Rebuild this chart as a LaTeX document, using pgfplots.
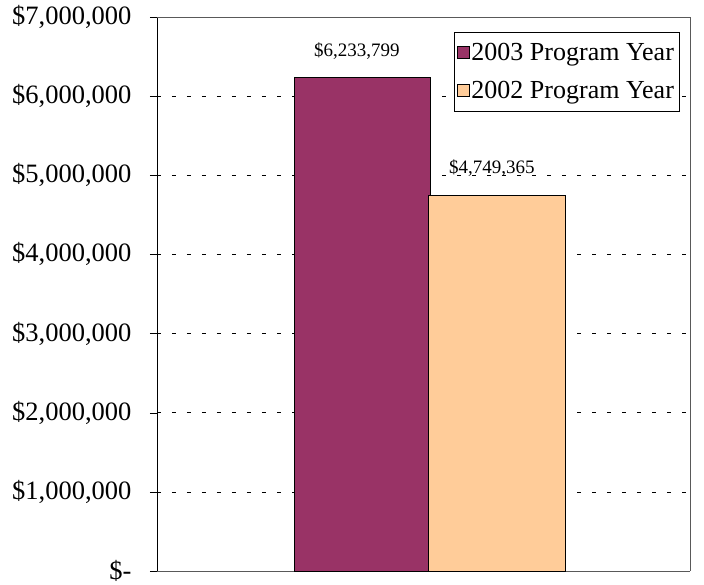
\documentclass[border=0pt]{standalone}
\usepackage{fontspec}
\setmainfont{Liberation Serif}
\usepackage{pgfplots}
\pgfplotsset{compat=1.18}
\definecolor{purp}{RGB}{153,51,102}
\definecolor{peach}{RGB}{255,204,153}
\begin{document}
\begin{tikzpicture}[x=1pt,y=1pt]
\useasboundingbox (-157,-13) rectangle (547,571);
\begin{axis}[
  at={(0,0)}, anchor=origin,
  scale only axis, width=533pt, height=554pt,
  xmin=0, xmax=1, ymin=0, ymax=7000000,
  scaled y ticks=false,
  axis x line*=bottom, axis y line*=left,
  x axis line style={gray!70!black, thick},
  y axis line style={black},
  xtick=\empty,
  ytick={0,1000000,2000000,3000000,4000000,5000000,6000000,7000000},
  yticklabels={{\$-},{\$1,000,000},{\$2,000,000},{\$3,000,000},{\$4,000,000},{\$5,000,000},{\$6,000,000},{\$7,000,000}},
  tick align=outside, major tick length=7pt,
  ytick style={black},
  yticklabel style={font=\fontsize{26.5}{30}\selectfont, xshift=-15pt},
  ymajorgrids,
  grid style={black, dash pattern=on 4pt off 11pt, line width=0.5pt},
  ybar, bar width=0.256, bar shift=0pt,
  point meta=explicit symbolic,
  nodes near coords,
  nodes near coords style={font=\fontsize{19}{22}\selectfont, anchor=south, yshift=15pt, xshift=-5pt},
  legend style={at={(0.557,0.973)}, anchor=north west, draw=black,
    font=\fontsize{26}{30}\selectfont, inner xsep=3pt, inner ysep=9pt, row sep=15pt,
    legend cell align=left},
  legend image code/.code={\draw[#1, draw=black] (2pt,-6pt) rectangle (14pt,6pt);},
  clip=false,
]
\addplot[fill=purp, draw=black] coordinates {(0.3845,6233799) [\$6,233,799]};
\addlegendentry{2003 Program Year}
\addplot[fill=peach, draw=black] coordinates {(0.6375,4749365) [\$4,749,365]};
\addlegendentry{2002 Program Year}
\draw[gray!70!black, thick] (rel axis cs:0,1) -- (rel axis cs:1,1) -- (rel axis cs:1,0);
\end{axis}
\end{tikzpicture}
\end{document}
